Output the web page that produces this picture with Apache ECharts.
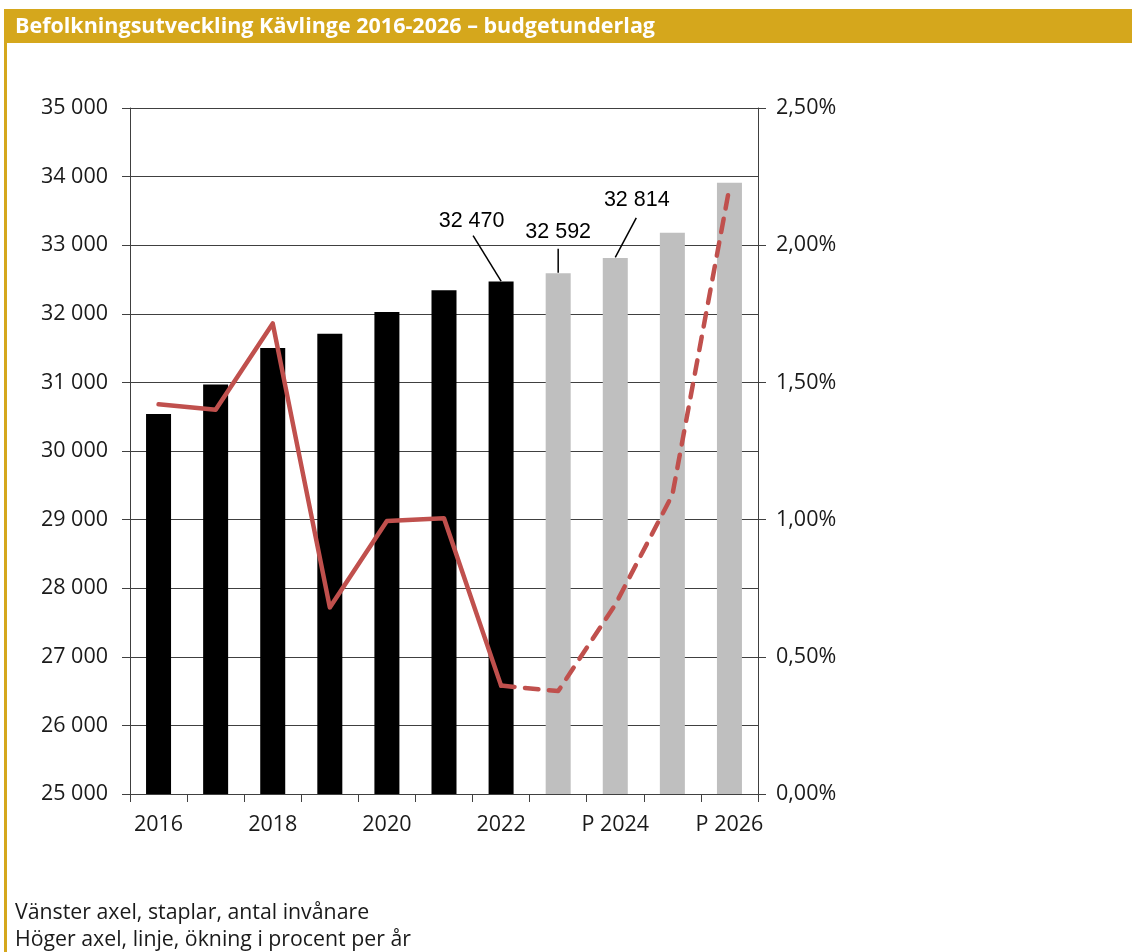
<!DOCTYPE html>
<html>
<head>
<meta charset="utf-8">
<script src="https://cdn.jsdelivr.net/npm/echarts@6/dist/echarts.min.js"></script>
<style>
html,body{margin:0;padding:0;background:#fff;}
#chart{width:1132px;height:952px;}
</style>
</head>
<body>
<div id="chart"></div>
<script>
var titleText = 'Befolkningsutveckling Kävlinge 2016-2026 – budgetunderlag';
var noteLines = ['Vänster axel, staplar, antal invånare', 'Höger axel, linje, ökning i procent per år'];
var categories = ['2016','2017','2018','2019','2020','2021','2022','P 2023','P 2024','P 2025','P 2026'];
var population = [30540, 30970, 31500, 31710, 32025, 32345, 32470, 32592, 32814, 33180, 33910];
var growthActual = [1.42, 1.40, 1.715, 0.68, 0.995, 1.005, 0.395, null, null, null, null];
var growthForecast = [null, null, null, null, null, null, 0.395, 0.375, 0.69, 1.09, 2.21];
var labelledIdx = [6, 7, 8];
// pixel offsets (style) relative to bar top centre: [labelDx, labelDy, lineStartDx, lineStartDy]
var calloutStyle = {6: [-29.5, -60.5, -28, -46], 7: [0, -41.5, 0, -24.5], 8: [21.5, -57.5, 21, -40]};

var FONT = '"Open Sans", "Noto Sans", sans-serif';
var GOLD = '#D5A71C';
var AXIS_FS = 21.5;

function fmtThousands(v){ return String(v).replace(/\B(?=(\d{3})+(?!\d))/g, ' '); }

var chart = echarts.init(document.getElementById('chart'), null, {renderer:'canvas'});
var barData = population.map(function(v, i){
  return {value: v, itemStyle: {color: categories[i].indexOf('P') === 0 ? '#BFBFBF' : '#000000'}};
});
var calloutData = labelledIdx.map(function(i){ return [i, population[i]]; });

chart.setOption({
  animation: false,
  backgroundColor: '#ffffff',
  title: {
    text: titleText, left: 10, top: 11,
    textStyle: {color: '#ffffff', fontFamily: FONT, fontWeight: 'bold', fontSize: 21.5}
  },
  graphic: [
    {type: 'rect', z: -1, shape: {x: 4, y: 9, width: 1128, height: 34}, style: {fill: GOLD}},
    {type: 'rect', z: -1, shape: {x: 4, y: 9, width: 3, height: 943}, style: {fill: GOLD}},
    {type: 'text', left: 15, top: 902.5, style: {text: noteLines[0], fill: '#1a1a1a', font: '21.3px ' + FONT}},
    {type: 'text', left: 15, top: 929.5, style: {text: noteLines[1], fill: '#1a1a1a', font: '21.3px ' + FONT}}
  ],
  grid: {left: 130, right: 374, top: 108, bottom: 158, containLabel: false},
  xAxis: {
    type: 'category', data: categories, boundaryGap: true,
    axisLine: {show: true, lineStyle: {color: '#404040', width: 1}},
    axisTick: {show: true, alignWithLabel: false, interval: 0, length: 8, lineStyle: {color: '#404040'}},
    axisLabel: {interval: 1, margin: 20, color: '#1a1a1a', fontFamily: FONT, fontSize: AXIS_FS}
  },
  yAxis: [
    {
      type: 'value', min: 25000, max: 35000, interval: 1000, position: 'left',
      axisLine: {show: true, lineStyle: {color: '#404040'}},
      axisTick: {show: true, length: 8, lineStyle: {color: '#404040'}},
      splitLine: {show: true, lineStyle: {color: '#404040', width: 1}},
      axisLabel: {margin: 22, color: '#1a1a1a', fontFamily: FONT, fontSize: AXIS_FS, formatter: fmtThousands}
    },
    {
      type: 'value', min: 0, max: 2.5, interval: 0.5, position: 'right',
      axisLine: {show: true, lineStyle: {color: '#404040'}},
      axisTick: {show: true, length: 8, lineStyle: {color: '#404040'}},
      splitLine: {show: false},
      axisLabel: {margin: 18, color: '#1a1a1a', fontFamily: FONT, fontSize: AXIS_FS,
        formatter: function(v){ return v.toFixed(2).replace('.', ',') + '%'; }}
    }
  ],
  series: [
    {
      type: 'bar', yAxisIndex: 0, data: barData, barWidth: 25, z: 2
    },
    {
      type: 'line', yAxisIndex: 1, data: growthActual, symbol: 'none', connectNulls: false,
      lineStyle: {color: '#C0504D', width: 4.5, cap: 'round', join: 'round'}, z: 3
    },
    {
      type: 'line', yAxisIndex: 1, data: growthForecast, symbol: 'none', connectNulls: false,
      lineStyle: {color: '#C0504D', width: 4.5, type: [13.5, 10.5], cap: 'round', join: 'round'}, z: 3
    },
    {
      type: 'custom', yAxisIndex: 0, data: calloutData, z: 4, silent: true,
      renderItem: function(params, api){
        var idx = api.value(0);
        var val = api.value(1);
        var p = api.coord([idx, val]);
        var s = calloutStyle[idx];
        return {
          type: 'group',
          children: [
            {type: 'line', shape: {x1: p[0] + s[2], y1: p[1] + s[3], x2: p[0], y2: p[1] - 0.5},
             style: {stroke: '#000', lineWidth: 1.5}},
            {type: 'text', x: p[0] + s[0], y: p[1] + s[1],
             style: {text: fmtThousands(val), fill: '#000', font: '21.5px "Liberation Sans", Arial, sans-serif',
                     align: 'center', verticalAlign: 'middle'}}
          ]
        };
      }
    }
  ]
});
</script>
</body>
</html>
